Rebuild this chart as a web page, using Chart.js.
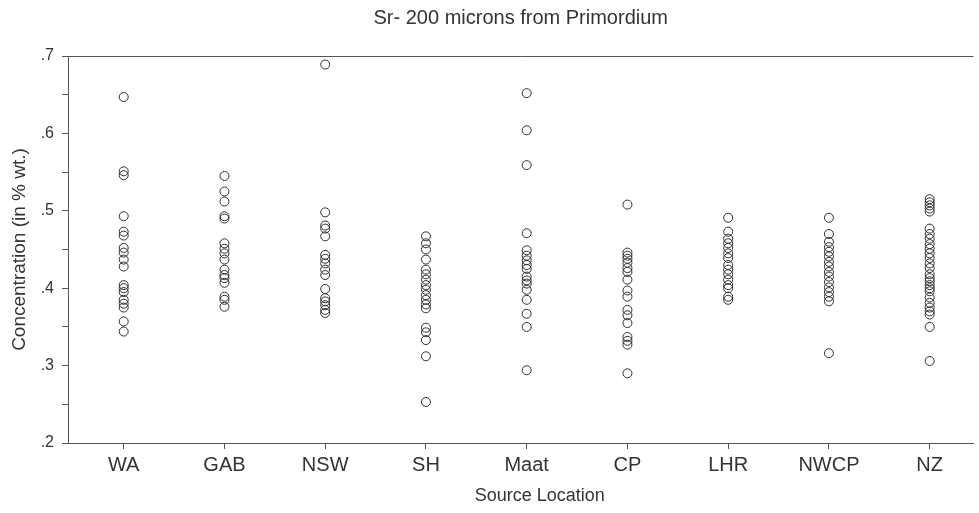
<!DOCTYPE html>
<html>
<head>
<meta charset="utf-8">
<title>Sr- 200 microns from Primordium</title>
<script src="https://cdn.jsdelivr.net/npm/chart.js@4"></script>
<style>
  html, body { margin: 0; padding: 0; background: #fff; }
  #wrap { width: 979px; height: 513px; position: relative; }
</style>
</head>
<body>
<div id="wrap"><canvas id="srChart"></canvas></div>
<script>
// ====== DATA ======
const locations = ['WA', 'GAB', 'NSW', 'SH', 'Maat', 'CP', 'LHR', 'NWCP', 'NZ'];

const srWA = [.647, .551, .546, .493, .473, .468, .452, .446, .437, .428, .404, .400, .395, .385, .380, .375, .357, .344];
const srGAB = [.545, .525, .512, .493, .490, .458, .451, .445, .437, .424, .417, .413, .407, .389, .385, .376];
const srNSW = [.689, .498, .481, .477, .467, .443, .438, .432, .424, .417, .399, .387, .383, .378, .372, .368];
const srSH = [.467, .458, .450, .437, .424, .418, .411, .404, .398, .391, .385, .379, .374, .349, .343, .333, .312, .253];
const srMaat = [.652, .604, .559, .471, .449, .442, .436, .430, .425, .415, .410, .406, .398, .385, .367, .350, .294];
const srCP = [.508, .446, .442, .438, .433, .426, .421, .411, .397, .389, .372, .365, .355, .337, .332, .327, .290];
const srLHR = [.491, .473, .464, .458, .452, .445, .439, .430, .424, .418, .411, .404, .400, .389, .385];
const srNWCP = [.491, .470, .460, .453, .447, .441, .434, .428, .421, .415, .408, .401, .395, .389, .383, .316];
const srNZ = [.515, .511, .507, .503, .499, .477, .470, .464, .457, .451, .445, .439, .432, .426, .418, .413, .409, .404, .400, .396, .388, .381, .375, .370, .366, .350, .306];

const srByLocation = [srWA, srGAB, srNSW, srSH, srMaat, srCP, srLHR, srNWCP, srNZ];

const yTicks = [.2, .3, .4, .5, .6, .7];

// ====== CHART ======
const FONT = "'Liberation Sans', Arial, Helvetica, sans-serif";
const INK = '#333';
const AXIS = '#555';

// line along the top of the plot area + x axis title (sits a bit right of centre)
const frameExtras = {
  id: 'frameExtras',
  afterDraw(chart) {
    const { ctx, chartArea } = chart;
    ctx.save();
    ctx.strokeStyle = AXIS;
    ctx.lineWidth = 1;
    ctx.beginPath();
    ctx.moveTo(chartArea.left, chartArea.top + 0.5);
    ctx.lineTo(chartArea.right, chartArea.top + 0.5);
    ctx.stroke();

    ctx.fillStyle = INK;
    ctx.font = `18px ${FONT}`;
    ctx.textAlign = 'center';
    ctx.textBaseline = 'middle';
    ctx.fillText('Source Location', (chartArea.left + chartArea.right) / 2 + 19, chartArea.bottom + 53);
    ctx.restore();
  }
};

const datasets = srByLocation.map((vals, i) => ({
  label: locations[i],
  data: vals.map(v => ({ x: i, y: v })),
  pointStyle: 'circle',
  pointRadius: 4.5,
  pointHoverRadius: 4.5,
  pointBorderWidth: 1,
  pointBorderColor: '#2e2e2e',
  pointBackgroundColor: 'rgba(0,0,0,0)'
}));

new Chart(document.getElementById('srChart'), {
  type: 'scatter',
  data: { datasets },
  plugins: [frameExtras],
  options: {
    responsive: true,
    maintainAspectRatio: false,
    animation: false,
    layout: { padding: 0 },
    plugins: {
      legend: { display: false },
      tooltip: { enabled: false },
      title: {
        display: true,
        fullSize: false,
        text: 'Sr- 200 microns from Primordium',
        color: INK,
        font: { family: FONT, size: 20, weight: 'normal' },
        padding: { top: 6, bottom: 26 }
      }
    },
    scales: {
      x: {
        type: 'linear',
        min: -0.553,
        max: 8.435,
        afterBuildTicks: scale => {
          scale.ticks = locations.map((_, i) => ({ value: i }));
        },
        afterFit: scale => { scale.height = 70; },
        ticks: {
          color: INK,
          padding: 4,
          autoSkip: false,
          maxRotation: 0,
          font: { family: FONT, size: 20 },
          callback: v => locations[v] ?? ''
        },
        grid: { drawOnChartArea: false, tickLength: 6, color: AXIS },
        border: { color: AXIS, width: 1 }
      },
      y: {
        min: 0.2,
        max: 0.7,
        afterBuildTicks: scale => {
          const ticks = [];
          for (let k = 0; k < yTicks.length; k++) {
            ticks.push({ value: yTicks[k] });
            if (k < yTicks.length - 1) ticks.push({ value: +(yTicks[k] + 0.05).toFixed(2) });
          }
          scale.ticks = ticks;
        },
        afterFit: scale => { scale.width = 68; },
        ticks: {
          color: INK,
          padding: 8,
          font: { family: FONT, size: 16 },
          callback: v => yTicks.includes(+v.toFixed(2)) ? v.toFixed(1).replace(/^0/, '') : ''
        },
        grid: { drawOnChartArea: false, tickLength: 6, color: AXIS },
        border: { color: AXIS, width: 1 },
        title: {
          display: true,
          text: 'Concentration (in % wt.)',
          color: INK,
          font: { family: FONT, size: 19 },
          padding: { top: 8, bottom: 0 }
        }
      }
    }
  }
});
</script>
</body>
</html>
